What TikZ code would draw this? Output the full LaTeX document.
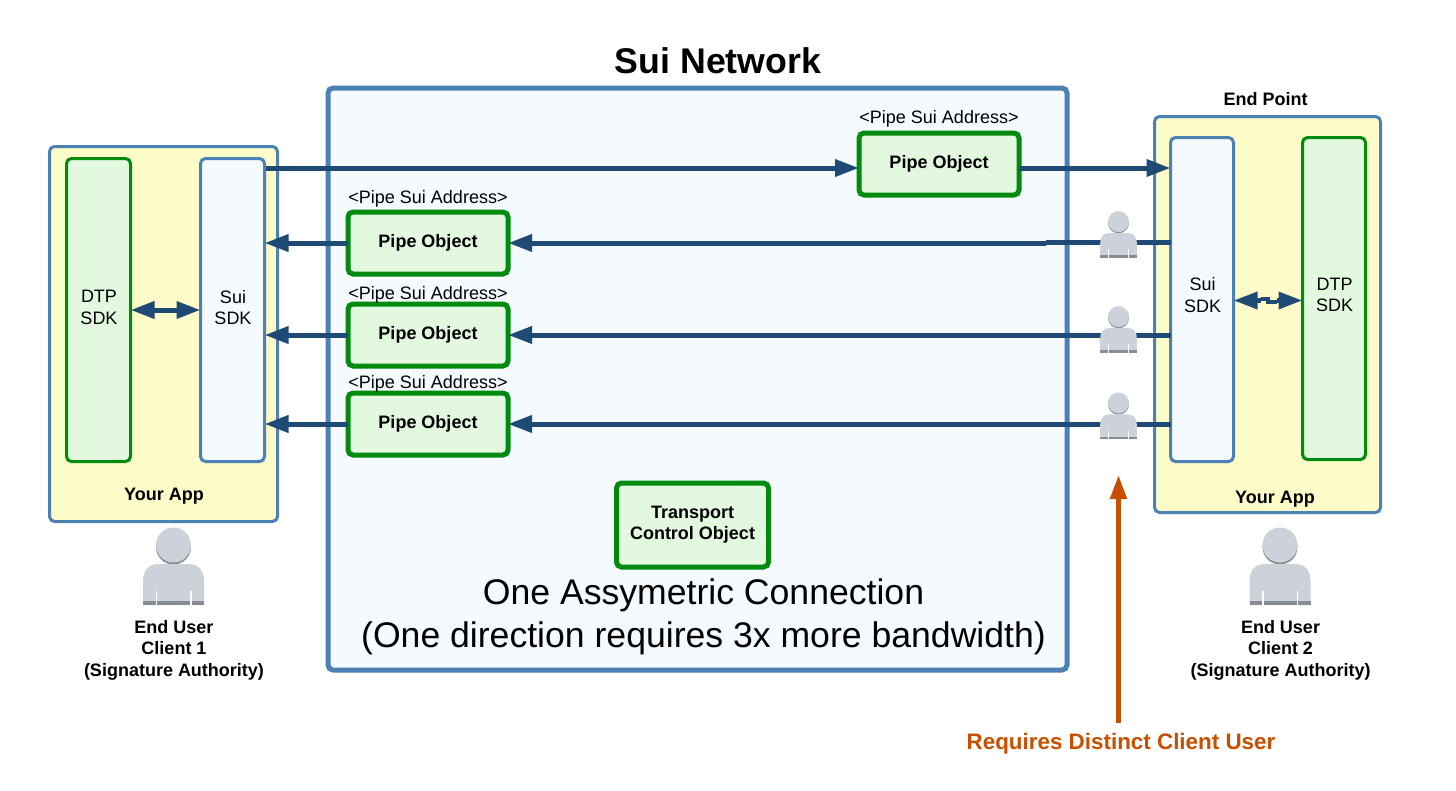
\documentclass[tikz,border=0pt]{standalone}
\usepackage{fontspec}
\setmainfont{Liberation Sans}
\usetikzlibrary{arrows.meta}
\definecolor{framecol}{HTML}{4C82B3}
\definecolor{netfill}{HTML}{F5FAFF}
\definecolor{appfill}{HTML}{FDFBC8}
\definecolor{greencol}{HTML}{008A0E}
\definecolor{greenfill}{HTML}{E2F9DF}
\definecolor{linkcol}{HTML}{1F4A75}
\definecolor{alertcol}{HTML}{C94F00}
\definecolor{personcol}{HTML}{CDD2DA}
\definecolor{persondark}{HTML}{888C93}
\tikzset{
  x=1pt,y=-1pt,
  box/.style={rounded corners=5pt,outer sep=0pt,inner sep=0pt,align=center,text=black},
  network/.style={box,draw=framecol,fill=netfill,line width=5pt},
  app/.style={box,draw=framecol,fill=appfill,line width=3pt},
  sdk/.style={box,draw=framecol,fill=netfill,line width=3pt},
  dtp/.style={box,draw=greencol,fill=greenfill,line width=3pt},
  sdktext/.style={align=center,inner sep=0pt,font=\fontsize{18}{21.5}\selectfont},
  pipe/.style={box,rounded corners=5pt,draw=greencol,fill=greenfill,line width=5pt,minimum width=160pt,minimum height=62pt,font=\bfseries\fontsize{18}{21}\selectfont},
  link/.style={draw=linkcol,line width=5pt,-{Triangle[length=24pt,width=16.5pt]}},
  plainlink/.style={draw=linkcol,line width=5pt},
  bothlink/.style={draw=linkcol,line width=5pt,{Triangle[length=24pt,width=16.5pt]}-{Triangle[length=24pt,width=16.5pt]}},
  addr/.style={font=\fontsize{18}{20}\selectfont,inner sep=0pt},
  caption/.style={font=\bfseries\fontsize{18}{21.5}\selectfont,align=center,inner sep=0pt},
  person/.pic={
    \fill[persondark] (0,-18) circle[radius=17.5];
    \fill[personcol] (0,-20) circle[radius=17.5];
    \fill[personcol] (-30.5,40) -- (-30.5,17) .. controls (-30.5,5) and (-25,-1) .. (-15,-1) -- (15,-1) .. controls (25,-1) and (30.5,5) .. (30.5,17) -- (30.5,40) -- cycle;
    \fill[persondark] (-30.5,36) rectangle (30.5,40);
    \fill[white] (-18,26) rectangle (-16.5,40);
    \fill[white] (16.5,26) rectangle (18,40);
  }
}
\begin{document}
\begin{tikzpicture}
\useasboundingbox (0,0) rectangle (1456,790);
\fill[white] (0,0) rectangle (1456,790);

% containers
\node[network,minimum width=739pt,minimum height=582pt] (net) at (697.5,379) {};
\node[app,minimum width=228pt,minimum height=375pt] (appL) at (163.5,334) {};
\node[app,minimum width=226pt,minimum height=396pt] (appR) at (1267.5,314.5) {};

% SDK boxes
\node[dtp,minimum width=64pt,minimum height=303pt] (dtpL) at (98.5,310) {};
\node[sdk,minimum width=64pt,minimum height=303pt] (suiL) at (232.5,310) {};
\node[sdk,minimum width=63pt,minimum height=324pt] (suiR) at (1202,299.5) {};
\node[dtp,minimum width=63pt,minimum height=322pt] (dtpR) at (1334,298.5) {};
\node[sdktext] (dtpLt) at (99,307.5) {DTP\\SDK};
\node[sdktext] (suiLt) at (233,307.5) {Sui\\SDK};
\node[sdktext] (suiRt) at (1202.5,295) {Sui\\SDK};
\node[sdktext] (dtpRt) at (1334.5,295) {DTP\\SDK};

% pipe objects
\node[pipe] (pipeT) at (939,164) {Pipe Object};
\node[pipe] (pipeA) at (428,243) {Pipe Object};
\node[pipe] (pipeB) at (428,335) {Pipe Object};
\node[pipe] (pipeC) at (428,424) {Pipe Object};
\node[pipe,minimum width=152pt,minimum height=84pt] (transport) at (692.5,525) {Transport\\Control Object};

% address labels
\node[addr] (addrT) at (939,119) {<Pipe Sui Address>};
\node[addr] (addrA) at (428,199) {<Pipe Sui Address>};
\node[addr] (addrB) at (428,295) {<Pipe Sui Address>};
\node[addr] (addrC) at (428,384) {<Pipe Sui Address>};

% connectors
\coordinate (suiLtop) at (266,168);
\coordinate (pipeTw) at (pipeT.west |- suiLtop);
\coordinate (pipeTe) at (pipeT.east |- suiLtop);
\coordinate (suiRtop) at (suiR.west |- suiLtop);
\draw[link] (suiLtop) -- (pipeTw);
\draw[link] (pipeTe) -- (suiRtop);
\draw[link] (pipeA.west) -- (suiL.east |- pipeA.west);
\draw[link] (pipeB.west) -- (suiL.east |- pipeB.west);
\draw[link] (pipeC.west) -- (suiL.east |- pipeC.west);
\coordinate (jogA) at (1046,242);
\draw[plainlink] (suiR.west |- jogA) -- (jogA);
\draw[link] (jogA |- pipeA.east) -- (pipeA.east);
\draw[link] (suiR.west |- pipeB.east) -- (pipeB.east);
\draw[link] (suiR.west |- pipeC.east) -- (pipeC.east);
\draw[bothlink] (dtpL.east) -- (suiL.west);

% jogged double arrow between the right-hand SDKs
\coordinate (dblmidL) at (1261,300.5);
\coordinate (dblmidR) at (1277,300.5);
\coordinate (jogT) at (1268,299);
\coordinate (jogB) at (1268,302);
\draw[link] (dblmidL) -- (suiR.east |- dblmidL);
\draw[link] (dblmidR) -- (dtpR.west |- dblmidR);
\draw[draw=linkcol,line width=3.5pt] (dblmidL |- jogT) -- (jogT) -- (jogB) -- (dblmidR |- jogB);

% small users on the wires
\path (1118.5,233.6) pic[scale=0.6] {person};
\path (1118.5,328.6) pic[scale=0.6] {person};
\path (1118.5,415) pic[scale=0.6] {person};

% large users
\path (173.5,565) pic {person};
\path (1280,565) pic {person};

% titles and captions
\node[font=\bfseries\fontsize{35.7}{40}\selectfont,inner sep=0pt] (title) at (718,61) {Sui Network};
\node[font=\bfseries\fontsize{18}{20}\selectfont,inner sep=0pt] (endpoint) at (1265.5,99) {End Point};
\node[font=\bfseries\fontsize{18}{20}\selectfont,inner sep=0pt] (yourL) at (164,496) {Your App};
\node[font=\bfseries\fontsize{18}{20}\selectfont,inner sep=0pt] (yourR) at (1275,499) {Your App};
\node[font=\fontsize{35.6}{43}\selectfont,align=center,inner sep=0pt] (conn) at (703.5,617) {One Assymetric Connection\\(One direction requires 3x more bandwidth)};
\node[caption] (userL) at (174,650) {End User\\Client 1\\(Signature Authority)};
\node[caption] (userR) at (1280.5,650) {End User\\Client 2\\(Signature Authority)};
\node[font=\bfseries\fontsize{22.4}{26}\selectfont,text=alertcol,inner sep=0pt] (req) at (1121,744) {Requires Distinct Client User};

% orange pointer
\coordinate (reqtop) at (1118.5,723);
\coordinate (reqtip) at (1118.5,475);
\draw[draw=alertcol,line width=5pt,-{Triangle[length=24pt,width=16pt]}] (reqtop) -- (reqtip);
\end{tikzpicture}
\end{document}
